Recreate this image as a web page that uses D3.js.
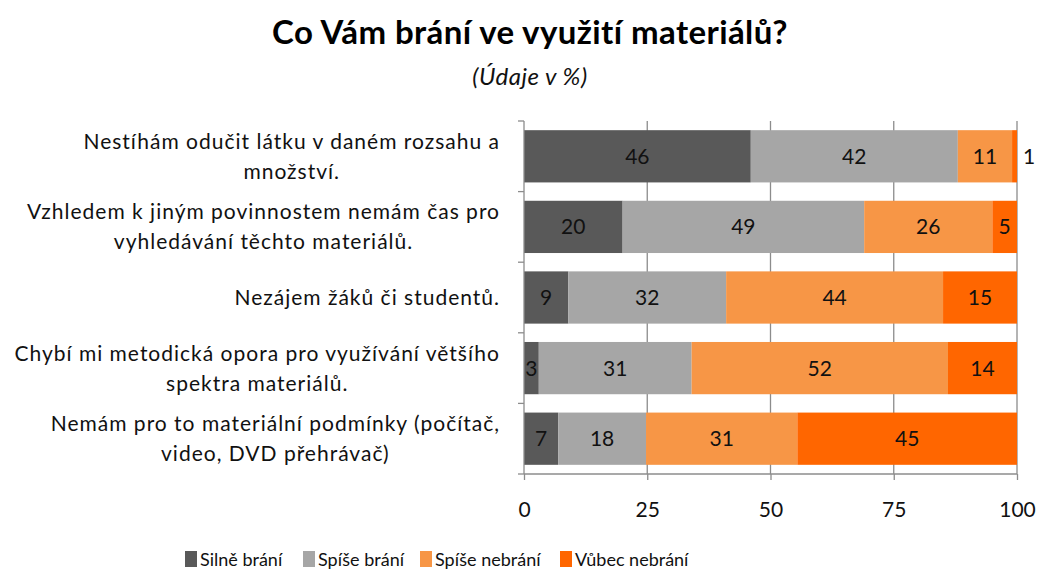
<!DOCTYPE html>
<html>
 <head>
  <meta charset="utf-8">
  <title>Co Vám brání</title>
  <script src="https://d3js.org/d3.v7.min.js"></script>
 </head>
<body style="margin:0;background:#fff">
<style>
 text { font-family: Lato, "Open Sans", sans-serif; fill: #111; }
</style>
<svg width="1040" height="572"></svg>
<script>
// labels of the questions (one array item per line)
var categories = [
  ["Nestíhám odučit látku v daném rozsahu a", "množství."],
  ["Vzhledem k jiným povinnostem nemám čas pro", "vyhledávání těchto materiálů."],
  ["Nezájem žáků či studentů."],
  ["Chybí mi metodická opora pro využívání většího", "spektra materiálů."],
  ["Nemám pro to materiální podmínky (počítač,", "video, DVD přehrávač)"]
];
var seriesNames = ["Silně brání", "Spíše brání", "Spíše nebrání", "Vůbec nebrání"];
var silne    = [46, 20, 9, 3, 7];
var spise    = [42, 49, 32, 31, 18];
var spiseNe  = [11, 26, 44, 52, 31];
var vubec    = [1, 5, 15, 14, 45];
var xTicks = [0, 25, 50, 75, 100];
var colors = ["#595959", "#a6a6a6", "#f79646", "#ff6600"];

var svg = d3.select("svg"),
    width = +svg.attr("width");

var pLeft = 524, pRight = 1017, pTop = 121, pBottom = 474;

var rows = categories.map(function(c, i){
  return {i: i, s0: silne[i], s1: spise[i], s2: spiseNe[i], s3: vubec[i]};
});
var keys = ["s0", "s1", "s2", "s3"];
var stacked = d3.stack().keys(keys).offset(d3.stackOffsetExpand)(rows);

var x = d3.scaleLinear().domain([0, 100]).range([pLeft, pRight]);
var y = d3.scaleBand().domain(d3.range(categories.length)).range([pTop, pBottom]).paddingInner(0.26).paddingOuter(0.13);

// title
svg.append("text").attr("x", 530).attr("y", 44).attr("text-anchor", "middle")
  .style("font-size", "33px").style("font-weight", "bold").style("letter-spacing", "0.4px").style("fill", "#000")
  .text("Co Vám brání ve využití materiálů?");
svg.append("text").attr("x", 530).attr("y", 85).attr("text-anchor", "middle")
  .style("font-size", "24px").style("font-style", "italic").style("letter-spacing", "0.5px")
  .text("(Údaje v %)");

// grid lines
svg.append("g").selectAll("line").data(xTicks.slice(1)).enter().append("line")
  .attr("x1", function(d){ return x(d); }).attr("x2", function(d){ return x(d); })
  .attr("y1", pTop).attr("y2", pBottom)
  .style("stroke", "#8c8c8c").style("stroke-width", 1.3);

// bars
var layer = svg.append("g").selectAll("g").data(stacked).enter().append("g")
  .style("fill", function(d, i){ return colors[i]; });
layer.selectAll("rect").data(function(d){ return d; }).enter().append("rect")
  .attr("x", function(d){ return x(d[0] * 100); })
  .attr("width", function(d){ return x(d[1] * 100) - x(d[0] * 100); })
  .attr("y", function(d){ return y(d.data.i); })
  .attr("height", y.bandwidth());

// value labels
layer.each(function(ser, k){
  d3.select(this).selectAll("text").data(ser).enter().append("text")
    .attr("x", function(d){
      var v = d.data[ser.key];
      if (v < 2) return x(d[1] * 100) + 12;
      return x((d[0] + d[1]) / 2 * 100);
    })
    .attr("y", function(d){ return y(d.data.i) + y.bandwidth() / 2; })
    .attr("dy", "0.36em")
    .attr("text-anchor", "middle")
    .style("font-size", "21px").style("fill", "#111")
    .text(function(d){ return d.data[ser.key]; });
});

// left axis line and band ticks
var step = (pBottom - pTop) / categories.length;
svg.append("line").attr("x1", pLeft).attr("x2", pLeft).attr("y1", pTop).attr("y2", pBottom)
  .style("stroke", "#8c8c8c").style("stroke-width", 1.3);
svg.append("g").selectAll("line").data(d3.range(categories.length + 1)).enter().append("line")
  .attr("x1", pLeft - 6).attr("x2", pLeft)
  .attr("y1", function(d){ return pTop + d * step; }).attr("y2", function(d){ return pTop + d * step; })
  .style("stroke", "#8c8c8c").style("stroke-width", 1.3);

// bottom axis
var xAxis = svg.append("g").attr("transform", "translate(0," + pBottom + ")")
  .call(d3.axisBottom(x).tickValues(xTicks).tickSize(6).tickPadding(22));
xAxis.selectAll("line, path").style("stroke", "#8c8c8c").style("stroke-width", 1.3);
xAxis.select(".domain").attr("d", "M" + pLeft + ",0H" + pRight);
xAxis.selectAll("text").style("font-size", "21px").style("font-family", "Lato, sans-serif").style("fill", "#111");

// category labels, block right aligned, lines centred
categories.forEach(function(lines, i){
  var cy = pTop + (i + 0.5) * step;
  var g = svg.append("g");
  var lh = 30;
  var ts = lines.map(function(l, j){
    return g.append("text").attr("y", cy + (j - (lines.length - 1) / 2) * lh).attr("dy", "0.36em")
      .attr("text-anchor", "middle").style("font-size", "21px").style("letter-spacing", "1px").text(l);
  });
  var w = d3.max(ts, function(t){ return t.node().getComputedTextLength(); });
  ts.forEach(function(t){ t.attr("x", 500 - w / 2); });
});

// legend
var legX = [185, 303, 420, 560];
var leg = svg.append("g").selectAll("g").data(seriesNames).enter().append("g")
  .attr("transform", function(d, i){ return "translate(" + legX[i] + ",551)"; });
leg.append("rect").attr("width", 12).attr("height", 16)
  .style("fill", function(d, i){ return colors[i]; });
leg.append("text").attr("x", 15).attr("y", 9).attr("dy", "0.36em")
  .style("font-size", "18px").text(function(d){ return d; });
</script>
</body>
</html>
